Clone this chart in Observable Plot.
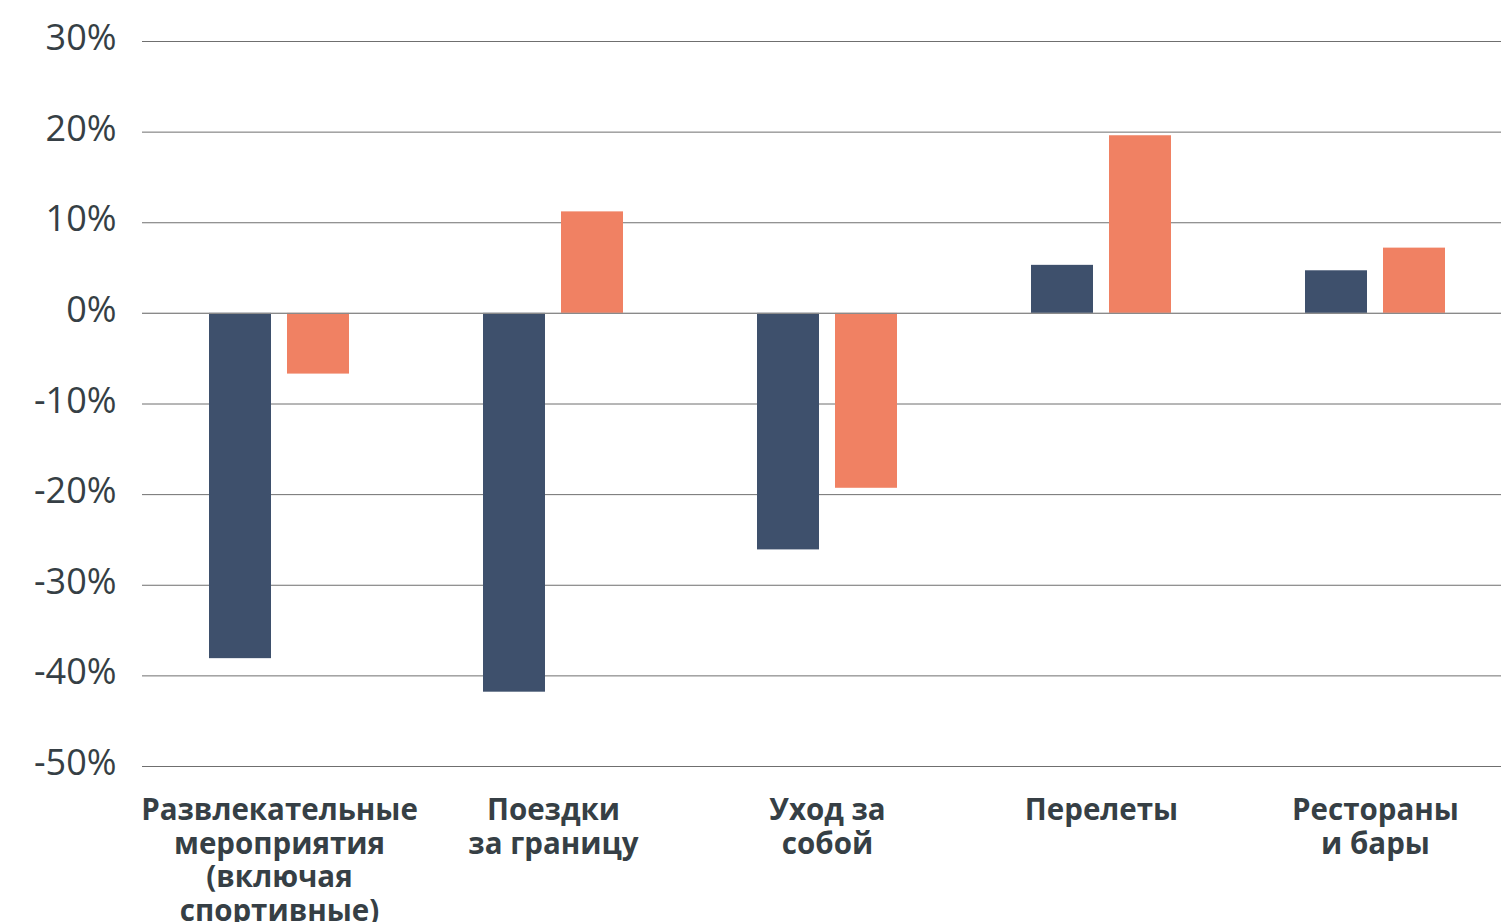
<!DOCTYPE html>
<html>
<head>
<meta charset="utf-8">
<script src="https://cdn.jsdelivr.net/npm/d3@7"></script>
<script src="https://cdn.jsdelivr.net/npm/@observablehq/plot@0.6"></script>
<style>
  html, body { margin: 0; padding: 0; background: #fff; overflow: hidden; }
  #chart svg { display: block; max-width: none !important; }
</style>
</head>
<body>
<div id="chart"></div>
<script>
const categories = [
  "Развлекательные\nмероприятия\n(включая\nспортивные)",
  "Поездки\nза границу",
  "Уход за\nсобой",
  "Перелеты",
  "Рестораны\nи бары"
];
const seriesDark = [-38.1, -41.8, -26.1, 5.3, 4.7];
const seriesOrange = [-6.7, 11.2, -19.3, 19.6, 7.2];
const yTicks = [-50, -40, -30, -20, -10, 0, 10, 20, 30];

const darkData = categories.map((c, i) => ({category: c, value: seriesDark[i]}));
const orangeData = categories.map((c, i) => ({category: c, value: seriesOrange[i]}));

const textColor = "#363f45";
const font = "'Open Sans', 'Noto Sans', sans-serif";

const chart = Plot.plot({
  width: 1501,
  height: 922,
  marginLeft: 142,
  marginRight: -11,
  marginTop: 41,
  marginBottom: 156,
  style: {fontFamily: font, color: textColor, background: "#fff"},
  x: {domain: categories, paddingInner: 0.49, paddingOuter: 0.245, label: null},
  y: {domain: [-50, 30], label: null},
  marks: [
    Plot.ruleY(yTicks, {stroke: "#6f6f6f", strokeWidth: 1}),
    Plot.barY(darkData, {x: "category", y: "value", fill: "#3e506c", insetRight: 78}),
    Plot.barY(orangeData, {x: "category", y: "value", fill: "#f08163", insetLeft: 78}),
    Plot.ruleY([0], {stroke: "#8a8a8a", strokeWidth: 1.2}),
    Plot.axisY({ticks: yTicks, tickFormat: d => d + "%", tickSize: 0, tickPadding: 26,
      fontSize: 36, fill: textColor, dy: -3, label: null}),
    Plot.axisX({tickSize: 0, tickPadding: 29, fontSize: 29.5, fontWeight: 700,
      lineHeight: 1.15, fill: textColor, label: null})
  ]
});
document.getElementById("chart").appendChild(chart);
</script>
</body>
</html>
